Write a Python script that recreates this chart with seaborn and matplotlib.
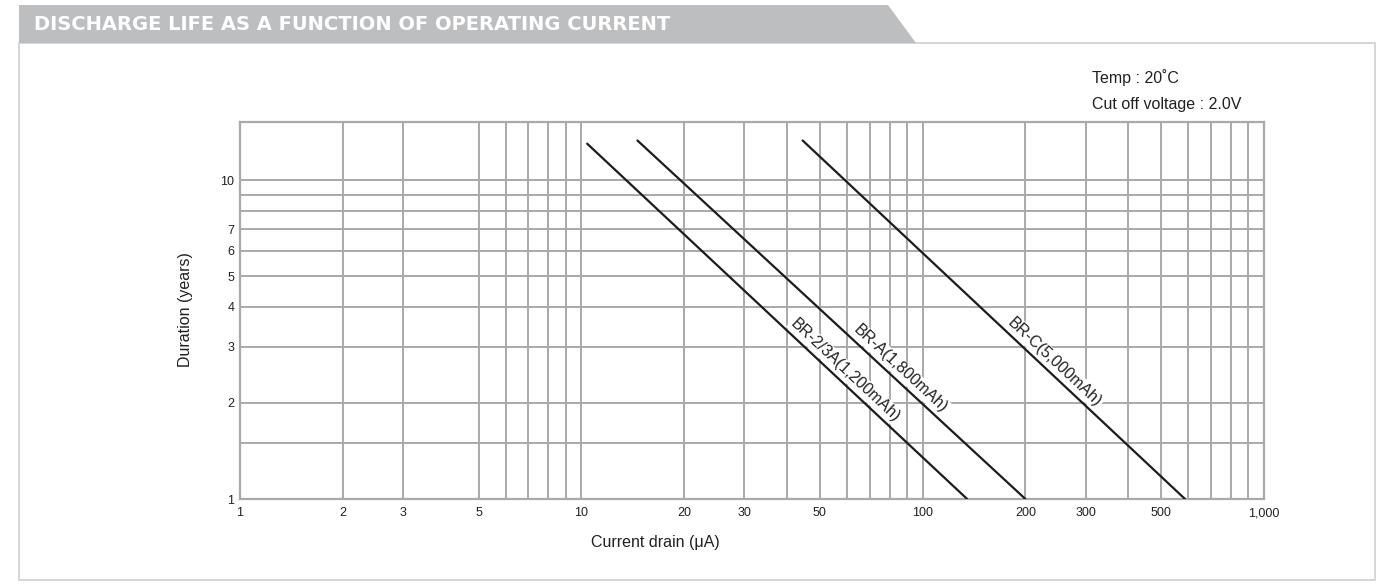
import numpy as np
import pandas as pd
import matplotlib
matplotlib.use("Agg")
import matplotlib.pyplot as plt
from matplotlib.patches import Polygon, Rectangle
from matplotlib.ticker import NullFormatter, FixedLocator
import seaborn as sns

# ---------------- data ----------------
series_names = ["BR-2/3A(1,200mAh)", "BR-A(1,800mAh)", "BR-C(5,000mAh)"]
current_br23a = [10.4, 135.0]
years_br23a = [13.0, 1.0]
current_bra = [14.6, 200.0]
years_bra = [13.3, 1.0]
current_brc = [44.5, 587.0]
years_brc = [13.3, 1.0]

x_tick_values = [1, 2, 3, 5, 10, 20, 30, 50, 100, 200, 300, 500, 1000]
x_tick_labels = ["1", "2", "3", "5", "10", "20", "30", "50", "100", "200", "300", "500", "1,000"]
x_grid_values = [1, 2, 3, 5, 6, 7, 8, 9, 10, 20, 30, 40, 50, 60, 70, 80, 90,
                 100, 200, 300, 400, 500, 600, 700, 800, 900, 1000]
y_tick_values = [1, 2, 3, 4, 5, 6, 7, 10]
y_tick_labels = ["1", "2", "3", "4", "5", "6", "7", "10"]
y_grid_values = [1, 1.5, 2, 3, 4, 5, 6, 7, 8, 9, 10]

title_text = "DISCHARGE LIFE AS A FUNCTION OF OPERATING CURRENT"
note_lines = ["Temp : 20\u02daC", "Cut off voltage : 2.0V"]
x_label = "Current drain (\u03bcA)"
y_label = "Duration (years)"

df = pd.DataFrame({
    "current": current_br23a + current_bra + current_brc,
    "years": years_br23a + years_bra + years_brc,
    "battery": [series_names[0]] * 2 + [series_names[1]] * 2 + [series_names[2]] * 2,
})

# ---------------- style ----------------
sns.set_theme(style="white")
plt.rcParams["font.family"] = ["Liberation Sans", "DejaVu Sans"]

W, H = 1382, 585
fig = plt.figure(figsize=(W / 100, H / 100), dpi=100)
fig.patch.set_facecolor("white")


def fx(x):
    return x / W


def fy(y):
    return 1 - y / H


GRID = "#A8A9AC"
LINE = "#1C1C1C"
TXT = "#231F20"

# frame box and banner
box = Rectangle((fx(19), fy(580)), fx(1375) - fx(19), fy(43) - fy(580),
                transform=fig.transFigure, facecolor="none", edgecolor="#D2D3D4", lw=1.3)
fig.add_artist(box)
banner = Polygon([(fx(19), fy(5)), (fx(888), fy(5)), (fx(916), fy(43)), (fx(19), fy(43))],
                 closed=True, transform=fig.transFigure, facecolor="#BCBEC0", edgecolor="none")
fig.add_artist(banner)
fig.text(fx(34), fy(24), title_text, color="white", fontsize=14, fontweight="bold",
         family=["DejaVu Sans"], ha="left", va="center")

ax = fig.add_axes([fx(240), fy(499), fx(1264) - fx(240), fy(122) - fy(499)])

sns.lineplot(data=df, x="current", y="years", hue="battery",
             palette={n: LINE for n in series_names}, estimator=None, sort=False,
             legend=False, linewidth=1.6, ax=ax, zorder=4)

ax.set_xscale("log")
ax.set_yscale("log")
ax.set_xlim(1, 1000)
ax.set_ylim(1, 15.2)

ax.xaxis.set_major_locator(FixedLocator(x_tick_values))
ax.set_xticklabels(x_tick_labels)
ax.xaxis.set_minor_locator(FixedLocator(x_grid_values))
ax.xaxis.set_minor_formatter(NullFormatter())
ax.yaxis.set_major_locator(FixedLocator(y_tick_values))
ax.set_yticklabels(y_tick_labels)
ax.yaxis.set_minor_locator(FixedLocator(y_grid_values))
ax.yaxis.set_minor_formatter(NullFormatter())

ax.grid(True, which="both", color=GRID, linewidth=1.4)
ax.set_axisbelow(True)
ax.tick_params(which="both", length=0, labelsize=9, colors=TXT)
ax.tick_params(axis="x", pad=12.5)
ax.tick_params(axis="y", pad=4)
for lbl in ax.get_xticklabels():
    lbl.set_verticalalignment("baseline")
for s in ax.spines.values():
    s.set_color(GRID)
    s.set_linewidth(1.6)
ax.set_xlabel("")
ax.set_ylabel("")

fig.text(fx(655), fy(542), x_label, fontsize=11.5, color=TXT, ha="center", va="center")
fig.text(fx(186), fy(310), y_label, fontsize=11.5, color=TXT, ha="center", va="center",
         rotation=90)

fig.text(fx(1092), fy(78), note_lines[0], fontsize=11.5, color=TXT, ha="left", va="center")
fig.text(fx(1092), fy(105), note_lines[1], fontsize=11.5, color=TXT, ha="left", va="center")

# rotated labels along each line
series = [(current_br23a, years_br23a), (current_bra, years_bra), (current_brc, years_brc)]
t_pos = [0.66, 0.66, 0.64]
for name, (xs, ys), t in zip(series_names, series, t_pos):
    p0 = ax.transData.transform((xs[0], ys[0]))
    p1 = ax.transData.transform((xs[1], ys[1]))
    d = p1 - p0
    L = np.hypot(*d)
    ang = np.degrees(np.arctan2(d[1], d[0]))
    n = np.array([-d[1], d[0]]) / L
    lx = 10 ** (np.log10(xs[0]) + t * (np.log10(xs[1]) - np.log10(xs[0])))
    ly = 10 ** (np.log10(ys[0]) + t * (np.log10(ys[1]) - np.log10(ys[0])))
    off = 11 * 72 / 100
    ax.annotate(name, xy=(lx, ly), xytext=(n[0] * off, n[1] * off), textcoords="offset points",
                rotation=ang, rotation_mode="anchor", ha="center", va="center",
                fontsize=11.5, color=TXT, zorder=3,
                bbox=dict(facecolor="white", edgecolor="none", pad=1.0))

fig.savefig("out.png", dpi=100, facecolor="white")
